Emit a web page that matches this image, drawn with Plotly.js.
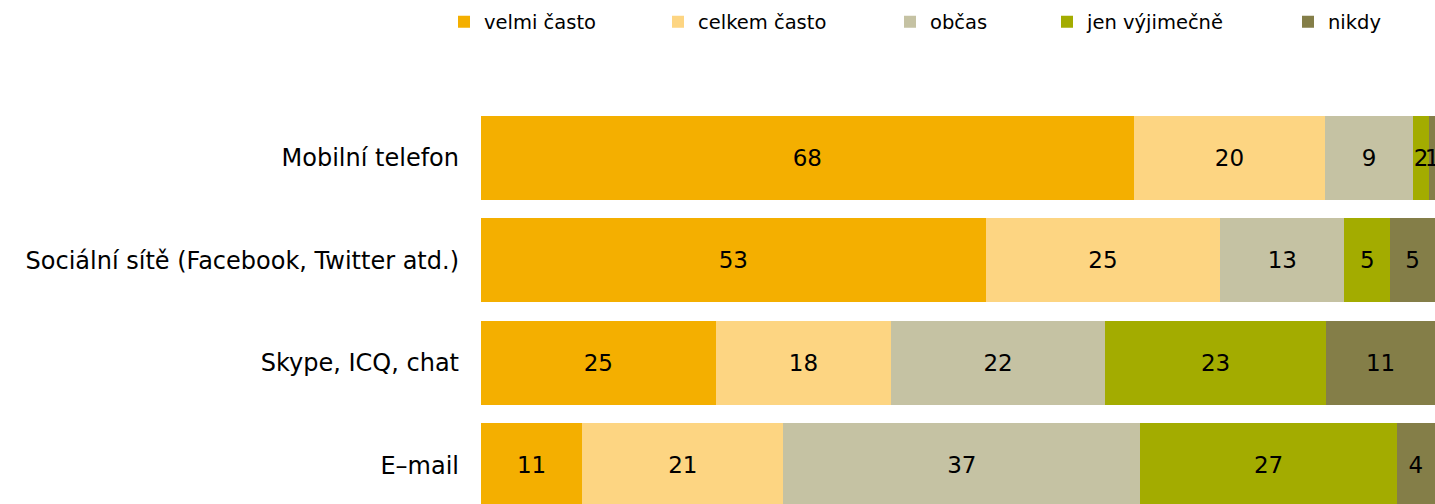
<!DOCTYPE html>
<html>
<head>
<meta charset="utf-8">
<script src="https://cdn.plot.ly/plotly-3.0.1.min.js"></script>
<style>html,body{margin:0;padding:0;background:#fff;}#chart{width:1435px;height:504px;}</style>
</head>
<body>
<div id="chart"></div>
<script>
const categories = ["Mobilní telefon", "Sociální sítě (Facebook, Twitter atd.)", "Skype, ICQ, chat", "E\u2013mail"];
const seriesNames = ["velmi často", "celkem často", "občas", "jen výjimečně", "nikdy"];
const velmiCasto   = [68.4, 52.9, 24.6, 10.6];
const celkemCasto  = [20.1, 24.6, 18.4, 21.1];
const obcas        = [9.2, 13.0, 22.4, 37.4];
const jenVyjimecne = [1.7, 4.8, 23.2, 26.9];
const nikdy        = [0.6, 4.7, 11.4, 4.0];
const seriesValues = [velmiCasto, celkemCasto, obcas, jenVyjimecne, nikdy];
const colors = ["#F4AF00", "#FDD582", "#C5C2A3", "#A3AC00", "#847E48"];

const FONT = "DejaVu Sans, Verdana, sans-serif";
const legendTextX = [484, 698, 930, 1087, 1328];
const legendIds = ["legend", "legend2", "legend3", "legend4", "legend5"];

const traces = seriesNames.map((name, i) => ({
  type: "bar",
  orientation: "h",
  name: name,
  y: categories,
  x: seriesValues[i],
  marker: { color: colors[i], line: { width: 0 } },
  texttemplate: "%{x:.0f}",
  textposition: "inside",
  insidetextanchor: "middle",
  constraintext: "none",
  textangle: 0,
  textfont: { family: FONT, size: 23, color: "#000" },
  hoverinfo: "skip",
  legend: legendIds[i]
}));

const layout = {
  width: 1435,
  height: 504,
  barmode: "stack",
  bargap: 0.18,
  margin: { l: 481, r: 0, t: 60, b: 0, pad: 0 },
  paper_bgcolor: "#fff",
  plot_bgcolor: "#fff",
  font: { family: FONT, color: "#000" },
  showlegend: true,
  xaxis: { range: [0, 100], visible: false, fixedrange: true },
  yaxis: {
    type: "category",
    categoryorder: "array",
    categoryarray: categories,
    range: [3.379, -0.957],
    showgrid: false,
    zeroline: false,
    showline: false,
    ticks: "",
    ticklabelstandoff: 21,
    tickfont: { family: FONT, size: 24, color: "#000" },
    fixedrange: true
  }
};
legendIds.forEach((id, i) => {
  layout[id] = {
    orientation: "h",
    xref: "container",
    yref: "container",
    x: (legendTextX[i] - 40) / 1435,
    xanchor: "left",
    y: 1 - 22 / 504,
    yanchor: "middle",
    bgcolor: "rgba(0,0,0,0)",
    borderwidth: 0,
    font: { family: FONT, size: 19.5, color: "#000" },
    itemclick: false,
    itemdoubleclick: false
  };
});

Plotly.newPlot("chart", traces, layout, { displayModeBar: false, staticPlot: true });
</script>
</body>
</html>
